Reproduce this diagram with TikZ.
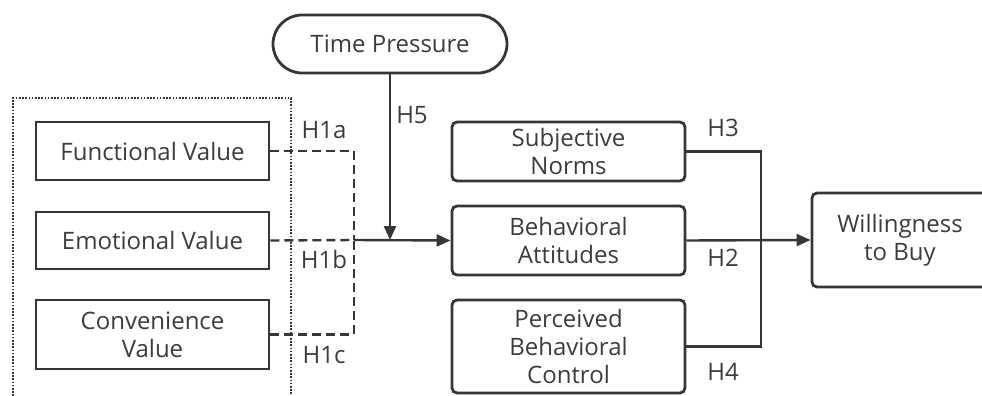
\documentclass[tikz,border=0pt]{standalone}
\usepackage{fontspec}
\setmainfont{Open Sans}
\usetikzlibrary{arrows.meta,positioning}
\definecolor{linegray}{HTML}{363636}
\definecolor{textgray}{HTML}{3C3C3C}

\begin{document}
\begin{tikzpicture}[x=0.5pt,y=-0.5pt,font=\fontsize{12}{14}\selectfont,text=textgray,
  box/.style={draw=linegray,line width=1.4pt,minimum width=116.5pt,align=center,inner sep=0pt},
  rbox/.style={box,rounded corners=2.5pt},
  link/.style={draw=linegray,line width=1.2pt},
  dashlink/.style={link,dash pattern=on 4.5pt off 2.5pt},
  tip/.style={-{Triangle[length=7pt,width=6pt]}},
  hlabel/.style={inner sep=0pt}]
\useasboundingbox (0,0) rectangle (982,396);
% group frame
\draw[linegray,line width=0.8pt,dash pattern=on 0.8pt off 0.8pt] (13,396) -- (13,98) -- (291,98) -- (291,396);
% value boxes
\node[box,minimum height=29pt] (fv) at (152.5,151) {Functional Value};
\node[box,minimum height=28.5pt] (ev) at (152.5,240.5) {Emotional Value};
\node[box,minimum height=34.5pt] (cv) at (152.5,334.5) {Convenience\\Value};
% moderator
\node[box,rounded corners=14.5pt,minimum width=117pt,minimum height=29pt] (tp) at (390,44) {Time Pressure};
% TPB boxes
\node[rbox,minimum height=29.5pt] (sn) at (568.5,151.5) {Subjective\\Norms};
\node[rbox,minimum height=34.5pt] (ba) at (568.5,240.5) {Behavioral\\Attitudes};
\node[rbox,minimum height=46.5pt] (pbc) at (568.5,346.5) {Perceived\\Behavioral\\Control};
\node[rbox,minimum width=88pt,minimum height=47pt] (wb) at (900,240) {Willingness\\to Buy};
% junctions
\coordinate (j1) at (354,240);
\coordinate (j2) at (390,240);
\coordinate (j3) at (761,240);
% connectors
\draw[dashlink] (fv.east) -| (j1);
\draw[dashlink] (cv.east) -| (j1);
\draw[dashlink] (ev.east) -- (j1);
\draw[link,tip] (j1) -- (ba.west);
\draw[link,tip] (tp.south) -- (j2);
\draw[link] (sn.east) -| (j3);
\draw[link] (pbc.east) -| (j3);
\draw[link,tip] (ba.east) -- (wb.west);
% hypothesis labels
\node[hlabel] (h1a) at (324,130) {H1a};
\node[hlabel] (h1b) at (324,259) {H1b};
\node[hlabel] (h1c) at (324,355) {H1c};
\node[hlabel] (h5) at (412,115) {H5};
\node[hlabel] (h3) at (723,128) {H3};
\node[hlabel] (h2) at (723,258) {H2};
\node[hlabel] (h4) at (723,372) {H4};
\end{tikzpicture}
\end{document}
